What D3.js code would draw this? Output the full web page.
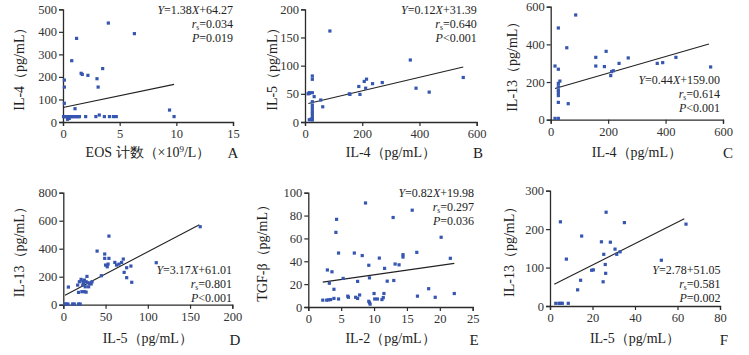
<!DOCTYPE html>
<html><head><meta charset="utf-8">
<script src="https://cdn.jsdelivr.net/npm/d3@7"></script>
<style>
body{margin:0;background:#fff;}
svg text{font-family:"Liberation Serif","Times New Roman",serif;}
</style></head>
<body><svg id="c" width="749" height="355"></svg>
<script>
// ---------- DATA ----------
const xA=[0.05,0.15,0.25,0.35,0.45,0.55,0.65,0.75,0.85,0.95,1.05,1.15,1.25,1.35,1.45,2.0,2.9,3.65,4.1,4.45,4.7,3.2,0.4,0.55,0.12,0.12,0.12,0.77,1.2,1.06,1.6,1.7,2.2,3.0,3.1,3.5,4.0,6.3,9.4,9.8];
const yA=[24,24,24,24,24,24,24,24,24,24,24,24,24,24,24,24,24,24,24,24,24,31,12,16,83,186,155,272,371,59,216,211,207,192,155,237,439,392,53,24];
const lineA=[[0,64.3],[9.8,167]];
const statsA=["1.38","64.27","0.034","=0.019"];

const xB=[87,15,25.6,25.6,15,25.6,32,25.6,25.6,25.6,25.6,25.6,25.6,25.6,25.6,15,21,55,62,155,157,188,192,207,215,212,236,270,368,388,434,553,11];
const yB=[161.5,51,81.6,75.8,52,52,45,36,30,25,20,15,10,6,3.5,4,5,39,27,50,49,63,49,72,76,60,68,70,110,60,53,79,50];
const lineB=[[11.7,0.12*11.7+31.39],[553,0.12*553+31.39]];
const statsB=["0.12","31.39","0.640","<0.001"];

const xC=[87,26.6,56,15,26.6,32,26.6,26.6,26.6,26.6,26.6,26.6,61,15,26.6,157,157,193,187,238,270,218,212,209,371,390,436,557];
const yC=[556,487,382,285,268,205,193,175,158,145,128,92,85,7,7,331,285,363,282,299,328,260,255,234,299,303,331,280];
const lineC=[[15,0.44*15+159],[551,0.44*551+159]];
const statsC=["0.44","159.00","0.614","<0.001"];

const xD=[162,54,40,49,49,54,50,52,53,61,63,66,69,71,72,75,80,75,81,110,45,6,19,21,23,25,28,27,29,31,33,34,23,26,27,25,22,18,17,30,24,1.5,3.5,5.5,11,13,18,20];
const yD=[557,490,383,362,331,331,283,271,290,302,283,290,302,326,231,264,276,193,160,300,207,126,164,181,169,176,202,164,157,152,148,164,140,128,90,93,93,88,140,128,152,5,5,5,5,5,5,5];
const lineD=[[2,3.17*2+61.01],[161,3.17*161+61.01]];
const statsD=["3.17","61.01","0.801","<0.001"];

const xE=[8.7,15.8,12.9,4.3,4.2,20.2,4.6,7.0,8.2,10.8,16.5,14.4,14.4,21.6,9.2,13.2,13.8,11.6,2.9,3.6,3.2,5.3,7.5,9.3,12.0,13.0,3.9,3.9,2.2,2.8,3.1,3.4,4.6,6.0,6.1,7.2,7.5,7.8,9.2,9.3,9.4,10.0,10.1,10.5,11.2,11.4,11.5,16.6,18.3,19.3,22.2];
const yE=[91,84.7,78.3,76.7,65.3,61,47.2,47.2,45,42.8,47.8,45.8,43.7,42.6,36.5,37.6,36.9,33.8,32.4,30.8,20.8,25,22.4,25.5,22.6,23.2,15.5,7.5,6,6,6.3,6.5,7,9.5,8.5,8.5,7.5,10.5,5,3.8,2.5,11.8,7,7,6.5,8.2,11.8,9.5,16,8.5,11.8];
const lineE=[[2.2,0.82*2.2+19.98],[22.2,0.82*22.2+19.98]];
const statsE=["0.82","19.98","0.297","=0.036"];

const xF=[26.4,4.9,35,64,14.9,24.2,28.4,30.6,33,31.4,25.3,7.7,52.4,26,19.6,20.4,26.2,14.4,25,13,2.7,4.2,5.0,5.8,8.6];
const yF=[244,219,217,213,182,167,166,148,141,134.5,134.5,122,119,108,93,94,85,67,63,42,7,7,7,7,7];
const lineF=[[2,2.78*2+51.05],[63.2,2.78*63.2+51.05]];
const statsF=["2.78","51.05","0.581","=0.002"];

const ticksA={x:[0,5,10,15],y:[0,100,200,300,400,500]};
const ticksB={x:[0,200,400,600],y:[0,50,100,150,200]};
const ticksC={x:[0,200,400,600],y:[0,200,400,600]};
const ticksD={x:[0,50,100,150,200],y:[0,200,400,600,800]};
const ticksE={x:[0,5,10,15,20,25],y:[0,20,40,60,80,100]};
const ticksF={x:[0,20,40,60,80],y:[0,100,200,300]};

const yTitles=["IL-4（pg/mL）","IL-5（pg/mL）","IL-13（pg/mL）","IL-13（pg/mL）","TGF-β（pg/mL）","IL-13（pg/mL）"];
const xTitles=["EOS 计数（×10|9|/L）","IL-4（pg/mL）","IL-4（pg/mL）","IL-5（pg/mL）","IL-2（pg/mL）","IL-5（pg/mL）"];
const letters=["A","B","C","D","E","F"];

// ---------- LAYOUT ----------
const layout=[
 {x0:63,x1:233,y0:122,y1:9.3, dom:[15,500], ytx:21, xty:157, stat:{x:233,y:14}},
 {x0:305,x1:476.7,y0:122,y1:9.3, dom:[600,200], ytx:274, xty:157, stat:{x:476.7,y:14}},
 {x0:550.7,x1:723,y0:119.7,y1:6.7, dom:[600,600], ytx:514, xty:157, stat:{x:720,y:84}},
 {x0:63.3,x1:232.3,y0:304.7,y1:192.7, dom:[200,800], ytx:21, xty:343, stat:{x:232,y:274}},
 {x0:308.3,x1:472.7,y0:307,y1:192.7, dom:[25,100], ytx:264, xty:343, stat:{x:474,y:197}},
 {x0:550,x1:720,y0:306,y1:190.7, dom:[80,300], ytx:511, xty:343, stat:{x:720.5,y:274}}
];
const sets=[[xA,yA,lineA,statsA,ticksA],[xB,yB,lineB,statsB,ticksB],[xC,yC,lineC,statsC,ticksC],
            [xD,yD,lineD,statsD,ticksD],[xE,yE,lineE,statsE,ticksE],[xF,yF,lineF,statsF,ticksF]];
const letterPos=[[233,158],[478,158],[728,158],[235,345],[474,345],[724,345]];

const svg=d3.select("#c");
const axisCol="#2b2b2b", textCol="#333", dotCol="#3656b0";

sets.forEach(([xs,ys,ln,st,tk],i)=>{
  const L=layout[i];
  const x=d3.scaleLinear().domain([0,L.dom[0]]).range([L.x0,L.x1]);
  const y=d3.scaleLinear().domain([0,L.dom[1]]).range([L.y0,L.y1]);
  const g=svg.append("g");
  const xa=g.append("g").attr("transform",`translate(0,${L.y0})`)
    .call(d3.axisBottom(x).tickValues(tk.x).tickSize(4).tickPadding(3).tickFormat(d3.format("d")));
  const ya=g.append("g").attr("transform",`translate(${L.x0},0)`)
    .call(d3.axisLeft(y).tickValues(tk.y).tickSize(4).tickPadding(2).tickFormat(d3.format("d")));
  [xa,ya].forEach(a=>{
    a.select(".domain").attr("stroke",axisCol).attr("stroke-width",1.3);
    a.selectAll(".tick line").attr("stroke",axisCol).attr("stroke-width",1.2);
    a.selectAll("text").attr("fill",textCol).style("font-size","12.5px");
  });
  g.append("line").attr("x1",x(ln[0][0])).attr("y1",y(ln[0][1]))
    .attr("x2",x(ln[1][0])).attr("y2",y(ln[1][1])).attr("stroke","#222").attr("stroke-width",1.1);
  g.selectAll("rect.pt").data(xs.map((v,k)=>[v,ys[k]])).enter().append("rect")
    .attr("x",d=>x(d[0])-1.6).attr("y",d=>y(d[1])-1.6).attr("width",3.2).attr("height",3.2)
    .attr("fill",dotCol);
  const sx=L.stat.x, sy=L.stat.y, fs="12px";
  const t1=g.append("text").attr("x",sx).attr("y",sy).attr("text-anchor","end").style("font-size",fs).attr("fill","#222");
  t1.append("tspan").style("font-style","italic").text("Y");
  t1.append("tspan").text("="+st[0]);
  if(i!==5) t1.append("tspan").style("font-style","italic").text("X");
  t1.append("tspan").text("+"+st[1]);
  const t2=g.append("text").attr("x",sx).attr("y",sy+14).attr("text-anchor","end").style("font-size",fs).attr("fill","#222");
  t2.append("tspan").style("font-style","italic").text("r");
  t2.append("tspan").attr("dy",2).style("font-size","7.5px").text("s");
  t2.append("tspan").attr("dy",-2).text("="+st[2]);
  const t3=g.append("text").attr("x",sx).attr("y",sy+28).attr("text-anchor","end").style("font-size",fs).attr("fill","#222");
  t3.append("tspan").style("font-style","italic").text("P");
  t3.append("tspan").text(st[3]);
  g.append("text").attr("transform",`translate(${L.ytx},${(L.y0+L.y1)/2}) rotate(-90)`)
    .attr("text-anchor","middle").attr("dominant-baseline","middle").style("font-size","14px").attr("fill","#222")
    .text(yTitles[i]);
  const xt=g.append("text").attr("x",(L.x0+L.x1)/2).attr("y",L.xty).attr("text-anchor","middle")
    .style("font-size","14px").attr("fill","#222");
  const parts=xTitles[i].split("|");
  xt.append("tspan").text(parts[0]);
  if(parts.length>1){
    xt.append("tspan").attr("dy",-5).style("font-size","9px").text(parts[1]);
    xt.append("tspan").attr("dy",5).text(parts[2]);
  }
  g.append("text").attr("x",letterPos[i][0]).attr("y",letterPos[i][1]).attr("text-anchor","middle")
    .style("font-size","15px").attr("fill","#222").text(letters[i]);
});
</script></body></html>
